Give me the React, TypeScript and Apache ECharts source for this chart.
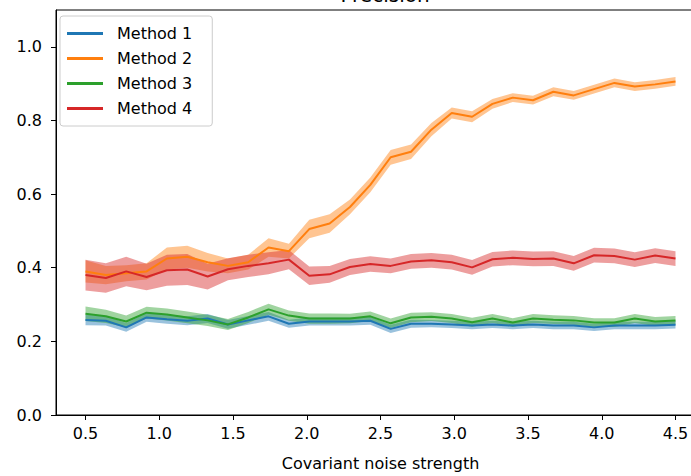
import React, { useEffect, useRef } from "react";
import * as echarts from "echarts";

// Noise strengths at which each method was evaluated
const noiseStrength = [
  0.5, 0.638, 0.776, 0.914, 1.052, 1.19, 1.328, 1.466, 1.603, 1.741,
  1.879, 2.017, 2.155, 2.293, 2.431, 2.569, 2.707, 2.845, 2.983, 3.121,
  3.259, 3.397, 3.534, 3.672, 3.81, 3.948, 4.086, 4.224, 4.362, 4.5,
];

const xTicks = [0.5, 1.0, 1.5, 2.0, 2.5, 3.0, 3.5, 4.0, 4.5];

const method1Mean = [
  0.258, 0.256, 0.238, 0.265, 0.26, 0.256, 0.262, 0.246, 0.257, 0.268,
  0.248, 0.254, 0.254, 0.254, 0.256, 0.234, 0.248, 0.248, 0.246, 0.243,
  0.246, 0.243, 0.246, 0.243, 0.243, 0.238, 0.243, 0.243, 0.243, 0.245,
];
const method1Spread = [
  0.014, 0.013, 0.012, 0.012, 0.012, 0.012, 0.012, 0.012, 0.012, 0.012,
  0.011, 0.011, 0.011, 0.011, 0.011, 0.011, 0.011, 0.01, 0.01, 0.01,
  0.01, 0.01, 0.01, 0.01, 0.01, 0.01, 0.01, 0.01, 0.01, 0.01,
];

const method2Mean = [
  0.39, 0.38, 0.385, 0.39, 0.425, 0.43, 0.415, 0.405, 0.415, 0.455,
  0.445, 0.505, 0.52, 0.565, 0.625, 0.7, 0.715, 0.775, 0.82, 0.81,
  0.845, 0.862, 0.855, 0.878, 0.868, 0.885, 0.902, 0.892, 0.898, 0.906,
];
const method2Spread = [
  0.03, 0.025, 0.022, 0.022, 0.03, 0.03, 0.025, 0.02, 0.02, 0.025,
  0.02, 0.025, 0.025, 0.02, 0.02, 0.02, 0.02, 0.018, 0.015, 0.015,
  0.013, 0.012, 0.012, 0.012, 0.012, 0.012, 0.012, 0.012, 0.012, 0.012,
];

const method3Mean = [
  0.275, 0.268, 0.254, 0.278, 0.273, 0.265, 0.257, 0.246, 0.265, 0.287,
  0.27, 0.262, 0.262, 0.262, 0.268, 0.249, 0.265, 0.267, 0.262, 0.252,
  0.262, 0.251, 0.262, 0.259, 0.257, 0.251, 0.251, 0.262, 0.254, 0.257,
];
const method3Spread = [
  0.02, 0.018, 0.016, 0.016, 0.016, 0.016, 0.015, 0.015, 0.015, 0.015,
  0.014, 0.014, 0.014, 0.013, 0.013, 0.013, 0.013, 0.012, 0.012, 0.012,
  0.012, 0.012, 0.012, 0.012, 0.012, 0.012, 0.012, 0.012, 0.012, 0.012,
];

const method4Mean = [
  0.38, 0.372, 0.39, 0.375, 0.393, 0.395, 0.376, 0.396, 0.405, 0.412,
  0.422, 0.378, 0.382, 0.402, 0.41, 0.405, 0.417, 0.42, 0.415, 0.401,
  0.423, 0.427, 0.424, 0.425, 0.412, 0.434, 0.432, 0.422, 0.433, 0.425,
];
const method4Spread = [
  0.042, 0.04, 0.04, 0.036, 0.042, 0.042, 0.035, 0.03, 0.03, 0.03,
  0.026, 0.025, 0.023, 0.022, 0.021, 0.02, 0.02, 0.02, 0.02, 0.02,
  0.02, 0.02, 0.02, 0.02, 0.02, 0.02, 0.02, 0.02, 0.02, 0.02,
];

const methods = [
  { name: "Method 1", color: "#1f77b4", mean: method1Mean, spread: method1Spread },
  { name: "Method 2", color: "#ff7f0e", mean: method2Mean, spread: method2Spread },
  { name: "Method 3", color: "#2ca02c", mean: method3Mean, spread: method3Spread },
  { name: "Method 4", color: "#d62728", mean: method4Mean, spread: method4Spread },
];

const FONT = "DejaVu Sans";

function buildSeries() {
  const series: any[] = [];
  methods.forEach((m) => {
    const lower = noiseStrength.map((x, i) => [x, m.mean[i] - m.spread[i]]);
    const upper = noiseStrength.map((x, i) => [x, m.mean[i] + m.spread[i]]);
    // shaded band between lower and upper edges, drawn as one polygon
    series.push({
      name: m.name + " band",
      type: "custom",
      silent: true,
      z: 2,
      data: noiseStrength.map((x, i) => [x, lower[i][1], upper[i][1]]),
      encode: { x: 0, y: [1, 2] },
      renderItem: (params: any, api: any) => {
        if (params.dataIndex !== 0) return null;
        const pts = upper
          .map((p) => api.coord(p))
          .concat(lower.slice().reverse().map((p) => api.coord(p)));
        return {
          type: "polygon",
          shape: { points: pts },
          style: { fill: m.color, opacity: 0.45 },
        };
      },
    });
    // mean curve
    series.push({
      name: m.name,
      type: "line",
      data: noiseStrength.map((x, i) => [x, m.mean[i]]),
      symbol: "none",
      color: m.color,
      lineStyle: { color: m.color, width: 2 },
      z: 3,
    });
  });
  return series;
}

export default function App() {
  const ref = useRef<HTMLDivElement>(null);

  useEffect(() => {
    if (!ref.current) return;
    const chart = echarts.init(ref.current, null, { renderer: "svg" });
    chart.setOption({
      animation: false,
      backgroundColor: "#ffffff",
      title: {
        text: "Precision",
        left: 380,
        textAlign: "center",
        top: -20,
        textStyle: { fontFamily: FONT, fontSize: 20, fontWeight: "normal", color: "#000" },
      },
      legend: {
        data: methods.map((m) => m.name),
        orient: "vertical",
        left: 60,
        top: 16,
        itemWidth: 36,
        itemHeight: 3,
        itemGap: 6,
        icon: "path://M0,0 L36,0 L36,3 L0,3 Z",
        padding: [8, 20, 8, 7],
        borderColor: "#cccccc",
        borderWidth: 1,
        borderRadius: 3,
        backgroundColor: "rgba(255,255,255,0.8)",
        textStyle: {
          fontFamily: FONT,
          fontSize: 16,
          color: "#000",
          lineHeight: 19,
          padding: [0, 0, 0, 9],
        },
      },
      // the chart surface is wider than the window, so the frame's right side falls off-screen
      grid: {
        left: 56,
        right: 5,
        top: 10,
        bottom: 55,
        show: true,
        borderColor: "#000",
        borderWidth: 1,
        backgroundColor: "transparent",
      },
      xAxis: {
        type: "value",
        min: 0.3,
        max: 4.7,
        name: "Covariant noise strength",
        nameLocation: "middle",
        nameGap: 40,
        nameTextStyle: { fontFamily: FONT, fontSize: 16, color: "#000" },
        axisLine: { lineStyle: { color: "#000", width: 1 } },
        axisTick: {
          show: true,
          length: 5,
          lineStyle: { color: "#000" },
          customValues: xTicks,
        },
        axisLabel: {
          fontFamily: FONT,
          fontSize: 16,
          color: "#000",
          margin: 10,
          customValues: xTicks,
          formatter: (v: number) => v.toFixed(1),
        },
        splitLine: { show: false },
      },
      yAxis: {
        type: "value",
        min: 0,
        max: 1.1,
        interval: 0.2,
        axisLine: { show: true, lineStyle: { color: "#000", width: 1 } },
        axisTick: { show: true, length: 5, lineStyle: { color: "#000" } },
        axisLabel: {
          fontFamily: FONT,
          fontSize: 16,
          color: "#000",
          margin: 14,
          showMaxLabel: false,
          formatter: (v: number) => v.toFixed(1),
        },
        splitLine: { show: false },
      },
      series: buildSeries(),
    });
    return () => chart.dispose();
  }, []);

  return (
    <div
      ref={ref}
      style={{ position: "fixed", left: 0, top: 0, width: 710, height: 476, background: "#fff" }}
    />
  );
}
